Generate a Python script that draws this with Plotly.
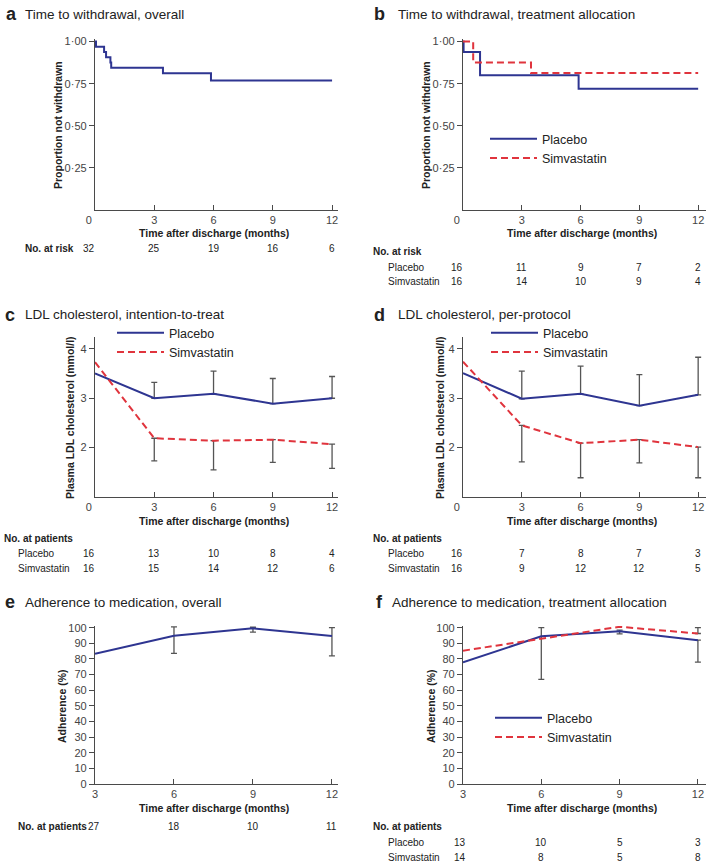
import plotly.graph_objects as go

W, H = 709, 864

# ---------------- data ----------------
risk_months = [0, 3, 6, 9, 12]
adh_months = [3, 6, 9, 12]

# a: Kaplan-Meier, overall
a_time = [0, 0.05, 0.46, 0.56, 0.78, 0.82, 3.44, 5.87, 12]
a_surv = [1.0, 0.969, 0.938, 0.906, 0.875, 0.844, 0.812, 0.768, 0.768]
a_risk = [32, 25, 19, 16, 6]

# b: Kaplan-Meier by treatment
b_pl_time = [0, 0.03, 0.87, 5.9, 12]
b_pl_surv = [1.0, 0.9375, 0.80, 0.72, 0.72]
b_sim_time = [0, 0.52, 3.47, 12]
b_sim_surv = [1.0, 0.875, 0.8125, 0.8125]
b_risk_pl = [16, 11, 9, 7, 2]
b_risk_sim = [16, 14, 10, 9, 4]

# c: LDL intention-to-treat
c_pl = [3.50, 3.00, 3.09, 2.89, 3.00]
c_pl_upper = [None, 3.32, 3.55, 3.40, 3.44]
c_sim = [3.73, 2.19, 2.14, 2.16, 2.07]
c_sim_lower = [None, 1.73, 1.55, 1.70, 1.58]
c_n_pl = [16, 13, 10, 8, 4]
c_n_sim = [16, 15, 14, 12, 6]

# d: LDL per-protocol
d_pl = [3.51, 2.99, 3.09, 2.85, 3.07]
d_pl_upper = [None, 3.55, 3.65, 3.48, 3.83]
d_sim = [3.74, 2.45, 2.09, 2.16, 2.01]
d_sim_lower = [None, 1.71, 1.39, 1.69, 1.39]
d_n_pl = [16, 7, 8, 7, 3]
d_n_sim = [16, 9, 12, 12, 5]

# e: adherence overall
e_adh = [83.3, 94.9, 99.6, 94.7]
e_lower = [None, 83.6, 97.2, 82.0]
e_upper = [None, 100.5, 100.3, 100.0]
e_n = [27, 18, 10, 11]

# f: adherence by treatment
f_pl = [77.8, 94.5, 97.7, 92.0]
f_pl_lower = [None, 67.0, 96.0, 78.0]
f_pl_upper = [None, 100.0, 98.5, None]
f_sim = [85.3, 92.8, 100.6, 96.3]
f_sim_upper = [None, None, None, 100.0]
f_n_pl = [13, 10, 5, 3]
f_n_sim = [14, 8, 5, 8]

# ---------------- style ----------------
BLUE = "#2e3591"
RED = "#e0343d"
AXC = "#4a4a4a"
ERRC = "#555555"
TXT = "#222222"
SANS = "Liberation Sans, Arial, sans-serif"


def X(px):
    return px / W


def Y(py):
    return 1 - py / H


fig = go.Figure()

panels = {
    "a": dict(ax="", x=(95, 338), y=(210, 39), xr=[0, 12.3], yr=[0, 1.015]),
    "b": dict(ax="2", x=(463, 706), y=(210, 39), xr=[0, 12.4], yr=[0, 1.015]),
    "c": dict(ax="3", x=(95, 338), y=(497, 337), xr=[0, 12.3], yr=[1, 4.24]),
    "d": dict(ax="4", x=(463, 706), y=(497, 337), xr=[0, 12.4], yr=[1, 4.24]),
    "e": dict(ax="5", x=(95, 338), y=(784, 626), xr=[3, 12.23], yr=[0, 101.1]),
    "f": dict(ax="6", x=(463, 706), y=(784, 626), xr=[3, 12.31], yr=[0, 101.1]),
}


def line_trace(p, x, y, name, color, dash, shape="linear", legend=None, show=False):
    ax = panels[p]["ax"]
    return go.Scatter(
        x=x, y=y, mode="lines", name=name,
        line=dict(color=color, width=2, dash=dash, shape=shape),
        xaxis="x" + ax, yaxis="y" + ax,
        showlegend=show, legend=legend, hoverinfo="skip",
    )


def err_trace(p, x, mean, lower=None, upper=None):
    ax = panels[p]["ax"]
    xs, ys, plus, minus = [], [], [], []
    for i, m in enumerate(mean):
        lo = lower[i] if lower is not None else None
        hi = upper[i] if upper is not None else None
        if lo is None and hi is None:
            continue
        xs.append(x[i])
        ys.append(m)
        plus.append((hi - m) if hi is not None else 0)
        minus.append((m - lo) if lo is not None else 0)
    return go.Scatter(
        x=xs, y=ys, mode="markers",
        marker=dict(size=1, color="rgba(0,0,0,0)"),
        error_y=dict(type="data", symmetric=False, array=plus, arrayminus=minus,
                     color=ERRC, thickness=1.3, width=3),
        xaxis="x" + ax, yaxis="y" + ax, showlegend=False, hoverinfo="skip",
    )


DASH = "7px,4px"

# a
fig.add_trace(line_trace("a", a_time, a_surv, "Overall", BLUE, "solid", "hv"))
# b
fig.add_trace(line_trace("b", b_pl_time, b_pl_surv, "Placebo", BLUE, "solid", "hv", "legend", True))
fig.add_trace(line_trace("b", b_sim_time, b_sim_surv, "Simvastatin", RED, DASH, "hv", "legend", True))
# c
fig.add_trace(err_trace("c", risk_months, c_pl, upper=c_pl_upper))
fig.add_trace(err_trace("c", risk_months, c_sim, lower=c_sim_lower))
fig.add_trace(line_trace("c", risk_months, c_pl, "Placebo", BLUE, "solid", legend="legend2", show=True))
fig.add_trace(line_trace("c", risk_months, c_sim, "Simvastatin", RED, DASH, legend="legend2", show=True))
# d
fig.add_trace(err_trace("d", risk_months, d_pl, upper=d_pl_upper))
fig.add_trace(err_trace("d", risk_months, d_sim, lower=d_sim_lower))
fig.add_trace(line_trace("d", risk_months, d_pl, "Placebo", BLUE, "solid", legend="legend3", show=True))
fig.add_trace(line_trace("d", risk_months, d_sim, "Simvastatin", RED, DASH, legend="legend3", show=True))
# e
fig.add_trace(err_trace("e", adh_months, e_adh, lower=e_lower, upper=e_upper))
fig.add_trace(line_trace("e", adh_months, e_adh, "Overall", BLUE, "solid"))
# f
fig.add_trace(err_trace("f", adh_months, f_pl, lower=f_pl_lower, upper=f_pl_upper))
fig.add_trace(err_trace("f", adh_months, f_sim, upper=f_sim_upper))
fig.add_trace(line_trace("f", adh_months, f_pl, "Placebo", BLUE, "solid", legend="legend4", show=True))
fig.add_trace(line_trace("f", adh_months, f_sim, "Simvastatin", RED, DASH, legend="legend4", show=True))

NB = "\u00a0"
layout = dict(
    width=W, height=H, margin=dict(l=0, r=0, t=0, b=0, autoexpand=False),
    paper_bgcolor="white", plot_bgcolor="white",
    font=dict(family=SANS, size=11, color=TXT),
)

for key, p in panels.items():
    ax = p["ax"]
    xname = "xaxis" + ax
    yname = "yaxis" + ax
    if key in ("e", "f"):
        xt = [3, 6, 9, 12]
        xtt = ["3", "6", "9", "12"]
        yt = list(range(0, 101, 10))
        ytt = [str(v) for v in yt]
    else:
        xt = [0, 3, 6, 9, 12]
        xtt = ["0" + NB * 4, "3", "6", "9", "12"]
        if key in ("a", "b"):
            yt = [0.25, 0.5, 0.75, 1.0]
            ytt = ["0·25", "0·50", "0·75", "1·00"]
        else:
            yt = [2, 3, 4]
            ytt = ["2", "3", "4"]
    layout[xname] = dict(
        domain=[X(p["x"][0]), X(p["x"][1])], range=p["xr"], automargin=False,
        anchor="y" + ax, showline=True, linecolor=AXC, linewidth=1.3,
        ticks="inside", ticklen=5, tickwidth=1.2, tickcolor=AXC,
        tickvals=xt, ticktext=xtt, showgrid=False, zeroline=False,
        ticklabeloverflow="allow",
        tickfont=dict(family=SANS, size=11, color="#444"),
    )
    layout[yname] = dict(
        domain=[Y(p["y"][0]), Y(p["y"][1])], range=p["yr"], automargin=False,
        anchor="x" + ax, showline=True, linecolor=AXC, linewidth=1.3,
        ticks="outside", ticklen=5, tickwidth=1.2, tickcolor=AXC,
        tickvals=yt, ticktext=ytt, showgrid=False, zeroline=False,
        ticklabeloverflow="allow",
        tickfont=dict(family=SANS, size=11, color="#444"),
    )

leg_common = dict(
    bgcolor="rgba(0,0,0,0)", font=dict(family=SANS, size=12.5, color=TXT),
    xanchor="left", yanchor="top", itemwidth=47, tracegroupgap=0,
)
layout["legend"] = dict(x=X(485), y=Y(124), **leg_common)
layout["legend2"] = dict(x=X(112), y=Y(318), **leg_common)
layout["legend3"] = dict(x=X(486), y=Y(318), **leg_common)
layout["legend4"] = dict(x=X(490), y=Y(703), **leg_common)

fig.update_layout(**layout)

ann = []


def text(x, y, s, size=11, bold=False, xanchor="left", xref="paper",
         xshift=0, angle=0, color=TXT):
    if bold:
        s = "<b>" + s + "</b>"
    ann.append(dict(x=x, y=y, xref=xref, yref="paper", text=s, showarrow=False,
                    xanchor=xanchor, yanchor="middle", xshift=xshift,
                    textangle=angle, font=dict(family=SANS, size=size, color=color)))


# panel titles
titles = [
    ("a", 4, 23, 14, "Time to withdrawal, overall"),
    ("b", 372, 396, 14, "Time to withdrawal, treatment allocation"),
    ("c", 3, 23, 315, "LDL cholesterol, intention-to-treat"),
    ("d", 372, 396, 315, "LDL cholesterol, per-protocol"),
    ("e", 3, 23, 602, "Adherence to medication, overall"),
    ("f", 374, 390, 602, "Adherence to medication, treatment allocation"),
]
for letter, lx, tx, ty, t in titles:
    text(X(lx), Y(ty), letter, size=18, bold=True)
    text(X(tx), Y(ty), t, size=13.5)

AT = 10.5  # axis title size
# y-axis titles
for cx, cy, t in [(58, 125, "Proportion not withdrawn"),
                  (426, 125, "Proportion not withdrawn"),
                  (70, 418, "Plasma LDL cholesterol (mmol/l)"),
                  (440, 418, "Plasma LDL cholesterol (mmol/l)"),
                  (62, 706, "Adherence (%)"),
                  (431, 706, "Adherence (%)")]:
    text(X(cx), Y(cy), t, size=AT, bold=True, xanchor="center", angle=-90)

# x-axis titles
for cx, cy in [(214, 233), (582, 233), (214, 521), (582, 521), (214, 808), (582, 808)]:
    text(X(cx), Y(cy), "Time after discharge (months)", size=AT, bold=True, xanchor="center")

TS = 10  # table text size


def row(p, months, values, y, first_shift=-6):
    ax = panels[p]["ax"]
    for i, (m, v) in enumerate(zip(months, values)):
        text(m, Y(y), str(v), size=TS, xanchor="center",
             xref="x" + ax, xshift=first_shift if i == 0 else 0)


# a table
text(X(23), Y(249), "No. at risk", size=TS, bold=True)
row("a", risk_months, a_risk, 249)
# b table
text(X(371), Y(251), "No. at risk", size=TS, bold=True)
text(X(386), Y(267), "Placebo", size=TS)
text(X(386), Y(282), "Simvastatin", size=TS)
row("b", risk_months, b_risk_pl, 267)
row("b", risk_months, b_risk_sim, 282)
# c table
text(X(2), Y(538), "No. at patients", size=TS, bold=True)
text(X(16), Y(553), "Placebo", size=TS)
text(X(16), Y(568), "Simvastatin", size=TS)
row("c", risk_months, c_n_pl, 553)
row("c", risk_months, c_n_sim, 568)
# d table
text(X(371), Y(538), "No. at patients", size=TS, bold=True)
text(X(386), Y(553), "Placebo", size=TS)
text(X(386), Y(568), "Simvastatin", size=TS)
row("d", risk_months, d_n_pl, 553)
row("d", risk_months, d_n_sim, 568)
# e table
text(X(16), Y(826), "No. at patients", size=TS, bold=True)
row("e", adh_months, e_n, 826, first_shift=-1)
# f table
text(X(371), Y(826), "No. at patients", size=TS, bold=True)
text(X(386), Y(842), "Placebo", size=TS)
text(X(386), Y(857), "Simvastatin", size=TS)
row("f", adh_months, f_n_pl, 842, first_shift=-3)
row("f", adh_months, f_n_sim, 857, first_shift=-3)

fig.update_layout(annotations=ann)
fig.write_html("out.html", config={"displayModeBar": False},
               post_script="document.body.style.margin='0';")
